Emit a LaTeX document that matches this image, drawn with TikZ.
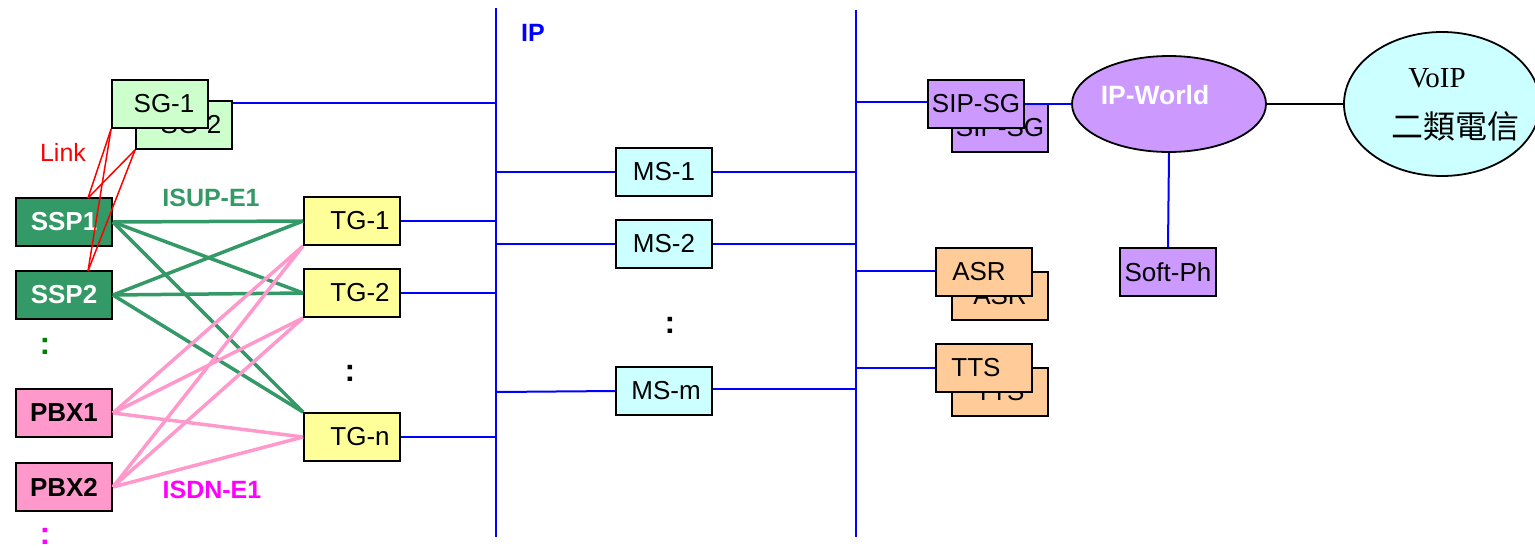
\documentclass[tikz,border=0pt]{standalone}
\usepackage{fontspec}
\setmainfont{Liberation Sans}
\newfontfamily\serifrm{Liberation Serif}
\newfontfamily\cjk{Noto Sans CJK TC}
\usetikzlibrary{shapes.geometric}
\definecolor{sgfill}{HTML}{CCFFCC}
\definecolor{sspfill}{HTML}{339966}
\definecolor{pbxfill}{HTML}{FF99CC}
\definecolor{tgfill}{HTML}{FFFF99}
\definecolor{msfill}{HTML}{CCFFFF}
\definecolor{purp}{HTML}{CC99FF}
\definecolor{orng}{HTML}{FFCC99}
\definecolor{bluel}{HTML}{0000FF}
\definecolor{magl}{HTML}{FF00FF}
\definecolor{dgreen}{HTML}{008000}
\tikzset{
  box/.style={draw=black, line width=1.8pt, minimum width=96pt, minimum height=48pt, inner sep=0pt, font=\fontsize{26}{30}\selectfont},
  bbox/.style={box, font=\fontsize{26}{30}\selectfont\bfseries},
  buswire/.style={draw=bluel, line width=2pt},
  isup/.style={draw=sspfill, line width=3.5pt},
  isdn/.style={draw=pbxfill, line width=3.5pt},
  linkw/.style={draw=red, line width=1.5pt},
  lbl/.style={inner sep=0pt, font=\fontsize{25}{28}\selectfont},
  dots/.style={inner sep=0pt, font=\fontsize{32}{34}\selectfont\bfseries},
}
\begin{document}
\begin{tikzpicture}[x=1pt,y=-1pt]
\useasboundingbox (0,0) rectangle (1535,547);
% buses
\coordinate (Ltop) at (496,8);
\coordinate (Lbot) at (496,537);
\coordinate (Rtop) at (856,10);
\coordinate (Rbot) at (856,537);
\draw[buswire] (Ltop) -- (Lbot);
\draw[buswire] (Rtop) -- (Rbot);
\node[lbl, text=bluel, font=\fontsize{25}{28}\selectfont\bfseries] (iplbl) at (533,33) {IP};

% SG
\node[box, fill=sgfill] (sg2) at (184,125) {\hspace*{14pt}SG-2};
\node[box, fill=sgfill] (sg1) at (160,104) {\hspace*{8pt}SG-1};
\coordinate (bsg) at (496,103);
\draw[buswire] (sg2.east |- bsg) -- (bsg);

% SSP, PBX
\node[bbox, fill=sspfill, text=white] (ssp1) at (64,222) {SSP1};
\node[bbox, fill=sspfill, text=white] (ssp2) at (64,295) {SSP2};
\node[bbox, fill=pbxfill] (pbx1) at (64,413) {PBX1};
\node[bbox, fill=pbxfill] (pbx2) at (64,487) {PBX2};
\node[dots, text=dgreen] (gdots) at (45,346) {:};
\node[dots, text=magl] (mdots) at (45,536) {:};

% TG
\node[box, fill=tgfill] (tg1) at (352,221) {\hspace*{16pt}TG-1};
\node[box, fill=tgfill] (tg2) at (352,293) {\hspace*{16pt}TG-2};
\node[box, fill=tgfill] (tgn) at (352,437) {\hspace*{16pt}TG-n};
\node[dots] (tdots) at (350,373) {:};

% ISUP lines
\draw[isup] (ssp1.east) -- (tg1.west);
\draw[isup] (ssp1.east) -- (tg2.west);
\draw[isup] (ssp1.east) -- (tgn.north west);
\draw[isup] (ssp2.east) -- (tg1.west);
\draw[isup] (ssp2.east) -- (tg2.west);
\draw[isup] (ssp2.east) -- (tgn.north west);
% ISDN lines
\draw[isdn] (pbx1.east) -- (tg1.south west);
\draw[isdn] (pbx1.east) -- (tg2.south west);
\draw[isdn] (pbx1.east) -- (tgn.west);
\draw[isdn] (pbx2.east) -- (tg1.south west);
\draw[isdn] (pbx2.east) -- (tg2.south west);
\draw[isdn] (pbx2.east) -- (tgn.west);
\node[lbl, text=sspfill, font=\fontsize{25}{28}\selectfont\bfseries] (isuplbl) at (211,198) {ISUP-E1};
\node[lbl, text=magl, font=\fontsize{25}{28}\selectfont\bfseries] (isdnlbl) at (212,490) {ISDN-E1};

% Link lines
\coordinate (ssp1top) at (88,198);
\coordinate (ssp2top) at (88,271);
\draw[linkw] (sg1.south west) -- (ssp1top);
\draw[linkw] (sg1.south west) -- (ssp2top);
\draw[linkw] (sg2.south west) -- (ssp1top);
\draw[linkw] (sg2.south west) -- (ssp2top);
\node[lbl, text=red] (linklbl) at (63,152) {Link};

% TG to bus
\coordinate (btg1) at (496,221);
\coordinate (btg2) at (496,293);
\coordinate (btgn) at (496,437);
\draw[buswire] (tg1.east) -- (btg1);
\draw[buswire] (tg2.east) -- (btg2);
\draw[buswire] (tgn.east) -- (btgn);

% MS
\node[box, fill=msfill] (ms1) at (664,172) {MS-1};
\node[box, fill=msfill] (ms2) at (664,244) {MS-2};
\node[box, fill=msfill] (msm) at (664,391) {\hspace*{4pt}MS-m};
\node[dots] (mdots2) at (670,325) {:};
\coordinate (lms1) at (496,172);
\coordinate (rms1) at (856,172);
\coordinate (lms2) at (496,244);
\coordinate (rms2) at (856,244);
\coordinate (lmsm) at (496,392);
\coordinate (rmsm) at (856,389);
\draw[buswire] (lms1) -- (ms1.west);
\draw[buswire] (ms1.east) -- (rms1);
\draw[buswire] (lms2) -- (ms2.west);
\draw[buswire] (ms2.east) -- (rms2);
\draw[buswire] (lmsm) -- (msm.west);
\draw[buswire] (msm.east |- rmsm) -- (rmsm);

% right side
\node[box, fill=purp] (sipsg2) at (1000,128) {SIP-SG};
\node[box, fill=purp] (sipsg1) at (976,104) {SIP-SG};
\node[box, fill=orng] (asr2) at (1000,296) {ASR};
\node[box, fill=orng] (asr1) at (984,272) {\hspace*{-10pt}ASR};
\node[box, fill=orng] (tts2) at (1000,392) {TTS};
\node[box, fill=orng] (tts1) at (984,368) {\hspace*{-16pt}TTS};
\coordinate (bsip) at (856,102);
\coordinate (basr) at (856,271);
\coordinate (btts) at (856,368);
\draw[buswire] (bsip) -- (sipsg1.west |- bsip);
\draw[buswire] (basr) -- (asr1.west |- basr);
\draw[buswire] (btts) -- (tts1.west |- btts);

\node[ellipse, draw=black, line width=1.8pt, fill=purp, minimum width=194pt, minimum height=96pt, inner sep=0pt] (ipw) at (1169,104) {};
\node[lbl, text=white, font=\fontsize{26.5}{30}\selectfont\bfseries] (ipwlbl) at (1155,95) {IP-World};
\draw[buswire] (sipsg1.east |- ipw.west) -- (ipw.west);
\node[box, fill=purp] (softph) at (1168,272) {Soft-Ph};
\draw[buswire] (ipw.south) -- (softph.north);

\node[ellipse, draw=black, line width=1.8pt, fill=msfill, minimum width=196pt, minimum height=144pt, inner sep=0pt] (voip) at (1442,104) {};
\node[lbl, font=\fontsize{29}{32}\serifrm] (voiplbl) at (1437,78) {VoIP};
\node[lbl, font=\fontsize{32}{34}\cjk] (cjklbl) at (1455,126) {二類電信};
\draw[black, line width=2pt] (ipw.east) -- (voip.west);
\end{tikzpicture}
\end{document}
